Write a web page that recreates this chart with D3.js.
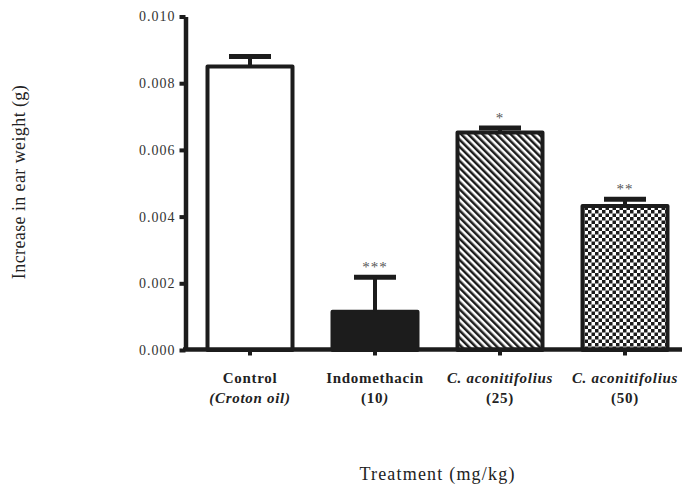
<!DOCTYPE html>
<html>
<head>
<meta charset="utf-8">
<script src="https://cdn.jsdelivr.net/npm/d3@7"></script>
<style>
  html, body { margin: 0; padding: 0; background: #fff; }
  svg { display: block; }
  svg text { font-family: "Liberation Serif", "Times New Roman", Times, serif; }
</style>
</head>
<body>
<svg id="chart" width="682" height="484"></svg>
<script>
// Treatment groups and their mean increase in ear weight (g) with SEM
const groups = ["control", "indomethacin", "ca25", "ca50"];
const labelTop = ["Control", "Indomethacin", "C. aconitifolius", "C. aconitifolius"];
const labelBottom = ["(Croton oil)", "(10)", "(25)", "(50)"];
const means = [0.0085, 0.00115, 0.00652, 0.00432];
const sems = [0.0003, 0.00103, 0.00014, 0.0002];
const stars = ["", "***", "*", "**"];
const yTicks = [0.000, 0.002, 0.004, 0.006, 0.008, 0.010];

const serif = "'Liberation Serif', 'Times New Roman', Times, serif";
const svg = d3.select("#chart");
const ink = "#1c1c1c";

// Fill patterns: plain white, solid, diagonal hatching, checkerboard
const defs = svg.append("defs");
const hatch = defs.append("pattern")
  .attr("id", "hatch").attr("patternUnits", "userSpaceOnUse")
  .attr("width", 5).attr("height", 5)
  .attr("patternTransform", "rotate(-45)");
hatch.append("rect").attr("width", 5).attr("height", 5).attr("fill", "#fff");
hatch.append("rect").attr("width", 2.5).attr("height", 5).attr("fill", ink);

const checker = defs.append("pattern")
  .attr("id", "checker").attr("patternUnits", "userSpaceOnUse")
  .attr("width", 7).attr("height", 7);
checker.append("rect").attr("width", 7).attr("height", 7).attr("fill", "#fff");
checker.append("rect").attr("width", 3.5).attr("height", 3.5).attr("fill", ink);
checker.append("rect").attr("x", 3.5).attr("y", 3.5).attr("width", 3.5).attr("height", 3.5).attr("fill", ink);

const fills = ["#fff", ink, "url(#hatch)", "url(#checker)"];

const x = d3.scaleBand().domain(groups).range([187.5, 687.5])
  .paddingInner(0.32).paddingOuter(0.16);
const y = d3.scaleLinear().domain([0, 0.010]).range([350, 16.5]);

// Bars
svg.append("g").selectAll("rect").data(groups).join("rect")
  .attr("x", d => x(d))
  .attr("y", (d, i) => y(means[i]))
  .attr("width", x.bandwidth())
  .attr("height", (d, i) => y(0) - y(means[i]))
  .attr("fill", (d, i) => fills[i])
  .attr("stroke", ink).attr("stroke-width", 4)
  .attr("stroke-linejoin", "round");

// Error bars (upper SEM only) with significance stars
const err = svg.append("g").attr("stroke", ink);
const starLayer = svg.append("g");
groups.forEach((g, i) => {
  const cx = x(g) + x.bandwidth() / 2;
  const top = y(means[i] + sems[i]);
  err.append("line").attr("x1", cx).attr("x2", cx)
    .attr("y1", y(means[i])).attr("y2", top).attr("stroke-width", 4);
  err.append("line").attr("x1", cx - 21).attr("x2", cx + 21)
    .attr("y1", top).attr("y2", top).attr("stroke-width", 5);
  if (stars[i]) {
    starLayer.append("text").attr("x", cx).attr("y", top - 5)
      .attr("text-anchor", "middle").attr("font-size", 15)
      .attr("font-family", serif)
      .attr("letter-spacing", 1).attr("fill", "#555")
      .text(stars[i]);
  }
});

// Y axis
const yAxis = svg.append("g").attr("transform", "translate(185.5,0)")
  .call(d3.axisLeft(y).tickValues(yTicks).tickFormat(d3.format(".3f"))
    .tickSize(6).tickSizeOuter(0).tickPadding(4));
yAxis.attr("font-family", serif);
yAxis.select(".domain").attr("stroke", ink).attr("stroke-width", 4.5);
yAxis.selectAll(".tick line").attr("stroke", ink).attr("stroke-width", 4);
yAxis.selectAll(".tick text").attr("font-family", serif)
  .attr("font-size", 14).attr("letter-spacing", 1).attr("fill", "#333");

// X axis
const xAxis = svg.append("g").attr("transform", "translate(0,349.5)")
  .call(d3.axisBottom(x).tickSize(6).tickSizeOuter(0).tickFormat(""));
xAxis.select(".domain").attr("d", "M183,0H682").attr("stroke", ink).attr("stroke-width", 4.5);
xAxis.selectAll(".tick line").attr("stroke", ink).attr("stroke-width", 4);

// Category labels
const lab = svg.append("g").attr("font-size", 15).attr("font-weight", "bold")
  .attr("font-family", serif)
  .attr("letter-spacing", 0.7).attr("fill", "#222").attr("text-anchor", "middle");
groups.forEach((g, i) => {
  const cx = x(g) + x.bandwidth() / 2;
  lab.append("text").attr("x", cx).attr("y", 383)
    .attr("font-family", serif)
    .attr("font-style", i >= 2 ? "italic" : "normal")
    .text(labelTop[i]);
  const t2 = lab.append("text").attr("x", cx).attr("y", 403).attr("font-family", serif);
  if (i === 0) {
    t2.attr("font-style", "italic").text(labelBottom[i]);
  } else if (i === 1) {
    const s = labelBottom[i];
    t2.append("tspan").text(s.slice(0, -1));
    t2.append("tspan").attr("font-style", "italic").text(s.slice(-1));
  } else {
    t2.text(labelBottom[i]);
  }
});

// Axis titles
svg.append("text")
  .attr("transform", "translate(25,182) rotate(-90)")
  .attr("text-anchor", "middle").attr("font-size", 18)
  .attr("font-family", serif)
  .attr("letter-spacing", 0.4).attr("fill", "#222")
  .text("Increase in ear weight (g)");

svg.append("text")
  .attr("x", 437.5).attr("y", 480)
  .attr("text-anchor", "middle").attr("font-size", 18)
  .attr("font-family", serif)
  .attr("letter-spacing", 1.2).attr("fill", "#222")
  .text("Treatment (mg/kg)");
</script>
</body>
</html>
